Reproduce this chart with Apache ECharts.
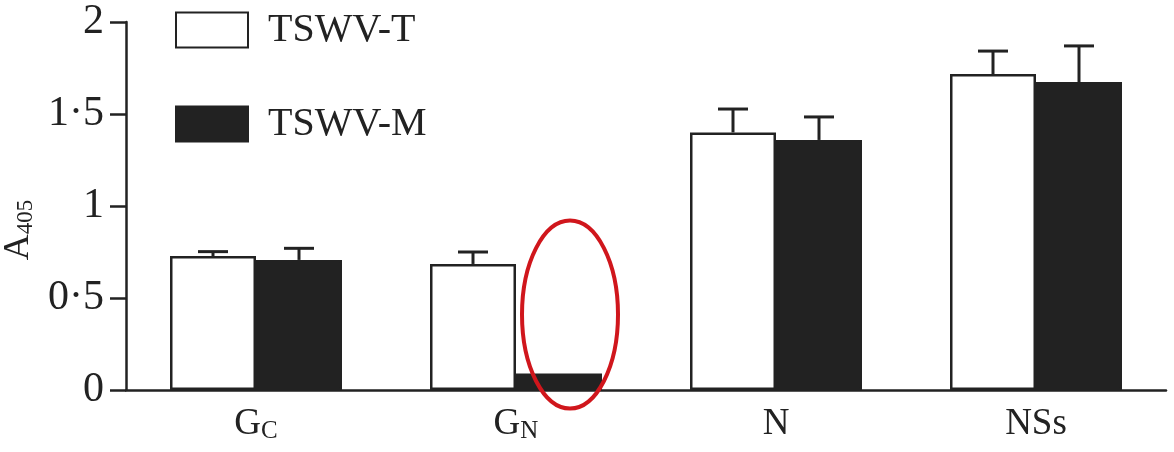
<!DOCTYPE html>
<html>
<head>
<meta charset="utf-8">
<script src="https://cdn.jsdelivr.net/npm/echarts@6/dist/echarts.min.js"></script>
<style>html,body{margin:0;padding:0;background:#fff}#c{width:1174px;height:452px}</style>
</head>
<body>
<div id="c"></div>
<script>
// ---- data ----
const categories = ['G_C', 'G_N', 'N', 'NSs'];
const seriesNames = ['TSWV-T', 'TSWV-M'];
const valuesT = [0.728, 0.685, 1.400, 1.717];
const valuesM = [0.707, 0.090, 1.359, 1.674];
const errT = [0.024, 0.065, 0.127, 0.125];
const errM = [0.063, 0, 0.125, 0.196];
const yTicks = [0, 0.5, 1, 1.5, 2];

// ---- style ----
const FONT = '"Liberation Serif", "DejaVu Serif", serif';
const INK = '#222';
const BAR_W = 86;

const chart = echarts.init(document.getElementById('c'));

function catLabel(s) {
  const p = s.split('_');
  return p.length > 1 ? '{m|' + p[0] + '}{s|' + p[1] + '}' : '{m|' + s + '}';
}

function errRenderer(sign) {
  return function (params, api) {
    const e = api.value(2);
    if (!e) return null;
    const half = BAR_W / 2;
    const base = api.coord([api.value(0), api.value(1)]);
    const top = api.coord([api.value(0), api.value(1) + e]);
    const x = base[0] + sign * half;
    const style = { stroke: INK, lineWidth: 3 };
    return {
      type: 'group',
      children: [
        { type: 'line', shape: { x1: x, y1: base[1], x2: x, y2: top[1] }, style },
        { type: 'line', shape: { x1: x - 15, y1: top[1], x2: x + 15, y2: top[1] }, style }
      ]
    };
  };
}

const option = {
  animation: false,
  backgroundColor: '#fff',
  grid: { left: 126, right: 8, top: 22, bottom: 62, containLabel: false, outerBoundsMode: 'none' },
  legend: {
    data: seriesNames,
    orient: 'vertical',
    left: 175, top: 10, padding: 0,
    itemWidth: 72, itemHeight: 35, itemGap: 54,
    icon: 'rect',
    textStyle: { fontFamily: FONT, fontSize: 40, color: INK, padding: [0, 0, 0, 15] }
  },
  xAxis: {
    type: 'category',
    data: categories,
    axisLine: { lineStyle: { color: INK, width: 2.5 } },
    axisTick: { show: false },
    axisLabel: {
      margin: 14,
      formatter: catLabel,
      rich: {
        m: { fontFamily: FONT, fontSize: 37, color: INK, lineHeight: 40 },
        s: { fontFamily: FONT, fontSize: 25, color: INK, lineHeight: 24, verticalAlign: 'bottom' }
      }
    }
  },
  yAxis: {
    type: 'value',
    min: yTicks[0], max: yTicks[yTicks.length - 1], interval: 0.5,
    name: 'A{s|405}',
    nameLocation: 'middle',
    nameRotate: 90,
    nameGap: 76,
    nameTextStyle: {
      fontFamily: FONT, fontSize: 36, color: INK, lineHeight: 38,
      padding: [0, 48, 0, 0],
      rich: { s: { fontFamily: FONT, fontSize: 23, color: INK, lineHeight: 22, verticalAlign: 'bottom' } }
    },
    axisLine: { show: true, lineStyle: { color: INK, width: 2.5 } },
    axisTick: { show: true, length: 16, lineStyle: { color: INK, width: 2.5 } },
    splitLine: { show: false },
    axisLabel: {
      fontFamily: FONT, fontSize: 42, color: INK, margin: 22,
      padding: [10, 0, 0, 0],
      formatter: v => String(v).replace('.', '·')
    }
  },
  series: [
    {
      name: seriesNames[0], type: 'bar', data: valuesT,
      barWidth: BAR_W, barGap: '0%',
      itemStyle: { color: '#fff', borderColor: INK, borderWidth: 2.5 }
    },
    {
      name: seriesNames[1], type: 'bar', data: valuesM,
      barWidth: BAR_W, barGap: '0%',
      itemStyle: { color: INK, borderColor: INK, borderWidth: 2.5 }
    },
    {
      type: 'custom', renderItem: errRenderer(-1), z: 5,
      data: categories.map((c, i) => [i, valuesT[i], errT[i]]),
      encode: { x: 0, y: 1 }
    },
    {
      type: 'custom', renderItem: errRenderer(1), z: 5,
      data: categories.map((c, i) => [i, valuesM[i], errM[i]]),
      encode: { x: 0, y: 1 }
    }
  ]
};
chart.setOption(option);

// annotation ellipse around the G_N TSWV-M bar
const p = chart.convertToPixel({ xAxisIndex: 0, yAxisIndex: 0 }, [1, 0.41]);
chart.setOption({
  graphic: [{
    type: 'ellipse',
    shape: { cx: p[0] + 54, cy: p[1], rx: 48, ry: 94 },
    style: { fill: 'none', stroke: '#d0161c', lineWidth: 4 },
    z: 100
  }]
});
</script>
</body>
</html>
